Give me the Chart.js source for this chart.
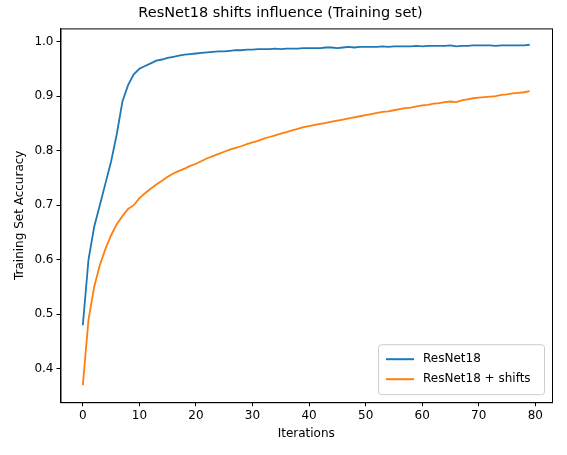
<!DOCTYPE html>
<html><head><meta charset="utf-8">
<script src="https://cdn.jsdelivr.net/npm/chart.js@4"></script>
<style>body{margin:0;background:#fff}</style>
</head><body>
<canvas id="c" width="567" height="455"></canvas>
<script>
const iterations = Array.from({length: 80}, (_, i) => i);
const resnet = [0.48,0.60,0.66,0.70,0.74,0.78,0.83,0.89,0.92,0.94,
0.95,0.955,0.96,0.965,0.967,0.970,0.972,0.974,0.976,0.977,
0.978,0.979,0.980,0.981,0.982,0.982,0.983,0.984,0.984,0.985,
0.985,0.986,0.986,0.986,0.987,0.986,0.987,0.987,0.987,0.988,
0.988,0.988,0.988,0.989,0.989,0.988,0.989,0.990,0.989,0.990,
0.990,0.990,0.990,0.991,0.990,0.991,0.991,0.991,0.991,0.992,
0.991,0.992,0.992,0.992,0.992,0.993,0.991,0.992,0.992,0.993,
0.993,0.993,0.993,0.992,0.993,0.993,0.993,0.993,0.993,0.994];
const resnetShifts = [0.37,0.49,0.55,0.59,0.62,0.645,0.665,0.68,0.693,0.70,
0.713,0.722,0.730,0.738,0.745,0.752,0.758,0.763,0.767,0.772,
0.776,0.781,0.786,0.790,0.794,0.798,0.802,0.805,0.808,0.812,
0.815,0.818,0.822,0.825,0.828,0.831,0.834,0.837,0.840,0.843,
0.845,0.847,0.849,0.851,0.853,0.855,0.857,0.859,0.861,0.863,
0.865,0.867,0.869,0.871,0.872,0.874,0.876,0.878,0.879,0.881,
0.883,0.884,0.886,0.887,0.889,0.890,0.889,0.892,0.894,0.896,
0.897,0.898,0.899,0.900,0.902,0.903,0.905,0.906,0.907,0.909];
const xTicks = [0,10,20,30,40,50,60,70,80];
const yTicks = [0.4,0.5,0.6,0.7,0.8,0.9,1.0];

Chart.defaults.font.family = 'DejaVu Sans';
Chart.defaults.color = '#000';

const pts = arr => arr.map((v, i) => ({x: iterations[i], y: v}));

// legend box drawn inside the plot, lower right
const innerLegend = {
	id: 'innerLegend',
	afterDraw(chart) {
		const {ctx, chartArea: a} = chart;
		const w = 166, h = 50, x = a.right - w - 8, y = a.bottom - h - 8;
		ctx.save();
		ctx.fillStyle = 'rgba(255,255,255,0.8)';
		ctx.strokeStyle = '#ccc';
		ctx.lineWidth = 1;
		ctx.beginPath(); ctx.roundRect(x + 0.5, y + 0.5, w, h, 3); ctx.fill(); ctx.stroke();
		ctx.font = '12px DejaVu Sans';
		ctx.textBaseline = 'middle';
		chart.data.datasets.forEach((ds, i) => {
			const ly = y + 15 + i * 20;
			ctx.strokeStyle = ds.borderColor; ctx.lineWidth = 2;
			ctx.beginPath(); ctx.moveTo(x + 8, ly); ctx.lineTo(x + 36, ly); ctx.stroke();
			ctx.fillStyle = '#000';
			ctx.fillText(ds.label, x + 45, ly);
		});
		ctx.restore();
	}
};

const axisGrid = { display: true, drawOnChartArea: false, drawTicks: true, tickLength: 4, color: '#000' };

new Chart(document.getElementById('c'), {
	type: 'line',
	data: { datasets: [
		{ label: 'ResNet18', data: pts(resnet), borderColor: '#1f77b4', borderWidth: 1.8, pointRadius: 0, tension: 0 },
		{ label: 'ResNet18 + shifts', data: pts(resnetShifts), borderColor: '#ff7f0e', borderWidth: 1.8, pointRadius: 0, tension: 0 }
	]},
	options: {
		responsive: false, animation: false,
		layout: { padding: { left: 9, right: 15, top: 0, bottom: 12 } },
		plugins: {
			legend: { display: false },
			tooltip: { enabled: false },
			title: { display: true, text: 'ResNet18 shifts influence (Training set)', font: { size: 14.5, weight: 'normal' }, padding: { top: 5, bottom: 6 } }
		},
		scales: {
			x: { type: 'linear', min: -3.95, max: 82.95,
				afterBuildTicks: s => { s.ticks = xTicks.map(v => ({value: v})); },
				grid: axisGrid,
				border: { color: '#000' },
				ticks: { font: { size: 12 }, maxRotation: 0, padding: 2 },
				title: { display: true, text: 'Iterations', font: { size: 12 }, padding: 2 } },
			y: { min: 0.339, max: 1.024,
				afterBuildTicks: s => { s.ticks = yTicks.map(v => ({value: v})); },
				grid: axisGrid,
				border: { color: '#000' },
				ticks: { font: { size: 12 }, padding: 3, callback: v => v.toFixed(1) },
				title: { display: true, text: 'Training Set Accuracy', font: { size: 12 }, padding: 4 } }
		}
	},
	plugins: [innerLegend, {
		id: 'frame',
		afterDraw(chart) {
			const {ctx, chartArea: a} = chart;
			ctx.save(); ctx.strokeStyle = '#000'; ctx.lineWidth = 1;
			ctx.strokeRect(a.left + 0.5, a.top + 0.5, a.right - a.left, a.bottom - a.top);
			ctx.restore();
		}
	}]
});
</script>
</body></html>
